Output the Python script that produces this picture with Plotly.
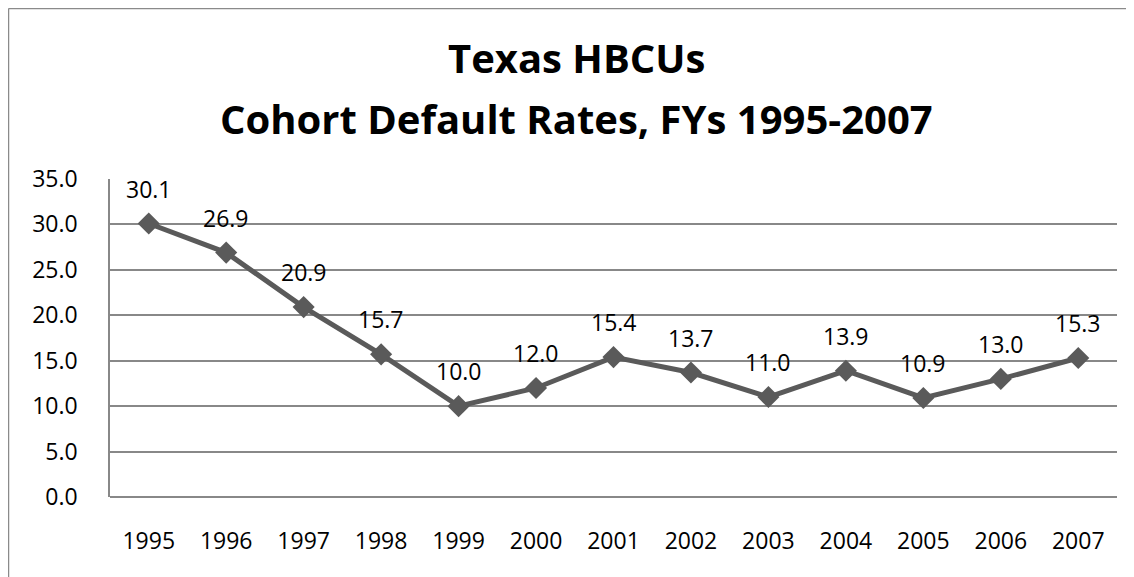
import plotly.graph_objects as go

# Data
years = ["1995", "1996", "1997", "1998", "1999", "2000", "2001",
         "2002", "2003", "2004", "2005", "2006", "2007"]
default_rates = [30.1, 26.9, 20.9, 15.7, 10.0, 12.0, 15.4,
                 13.7, 11.0, 13.9, 10.9, 13.0, 15.3]
y_ticks = [0, 5, 10, 15, 20, 25, 30, 35]
title_lines = ["Texas HBCUs", "Cohort Default Rates, FYs 1995-2007"]

line_color = "#5a5a5a"
grid_color = "#888888"
font_family = "Open Sans"

fig = go.Figure(go.Scatter(
    x=years,
    y=default_rates,
    mode="lines+markers",
    line=dict(color=line_color, width=5),
    marker=dict(symbol="diamond", size=17, color=line_color),
    cliponaxis=False,
    showlegend=False,
))

# data labels sit a fixed distance above each point
# (category index used for x, "1995" would be read as a number)
for i, v in enumerate(default_rates):
    fig.add_annotation(
        x=i, y=v, text=f"{v:.1f}", showarrow=False,
        yshift=35, yanchor="middle",
        font=dict(family=font_family, size=23, color="black"),
    )

# Two-line bold title
for txt, ypos in zip(title_lines, [1.381, 1.189]):
    fig.add_annotation(
        text=f"<b>{txt}</b>", xref="paper", yref="paper",
        x=0.4628, y=ypos, xanchor="center", yanchor="middle",
        showarrow=False, font=dict(family=font_family, size=40, color="black"),
    )

# Outer chart frame (only top and left visible in the reference)
fig.add_shape(
    type="line", xref="paper", yref="paper",
    x0=-0.1008, x1=-0.1008, y0=-0.3, y1=1.536,
    line=dict(color="#8a8a8a", width=1.5),
)
fig.add_shape(
    type="line", xref="paper", yref="paper",
    x0=-0.1008, x1=1.05, y0=1.536, y1=1.536,
    line=dict(color="#8a8a8a", width=1.5),
)

fig.update_layout(
    width=1126, height=569,
    margin=dict(l=102, r=17, t=171, b=80),
    paper_bgcolor="white",
    plot_bgcolor="white",
    font=dict(family=font_family, size=23, color="black"),
)

fig.update_xaxes(
    type="category",
    range=[-0.5, len(years) - 0.5],
    showgrid=False,
    showline=False,
    ticks="",
    ticklabelstandoff=28,
    tickfont=dict(size=23),
)

fig.update_yaxes(
    range=[0, 35],
    tickvals=y_ticks,
    tickformat=".1f",
    showgrid=True,
    gridcolor=grid_color,
    gridwidth=1.5,
    zeroline=True,
    zerolinecolor=grid_color,
    zerolinewidth=1.5,
    showline=True,
    linecolor=grid_color,
    linewidth=1.5,
    ticks="",
    ticklabelstandoff=26,
    tickfont=dict(size=23),
)

fig.write_html("out.html")
